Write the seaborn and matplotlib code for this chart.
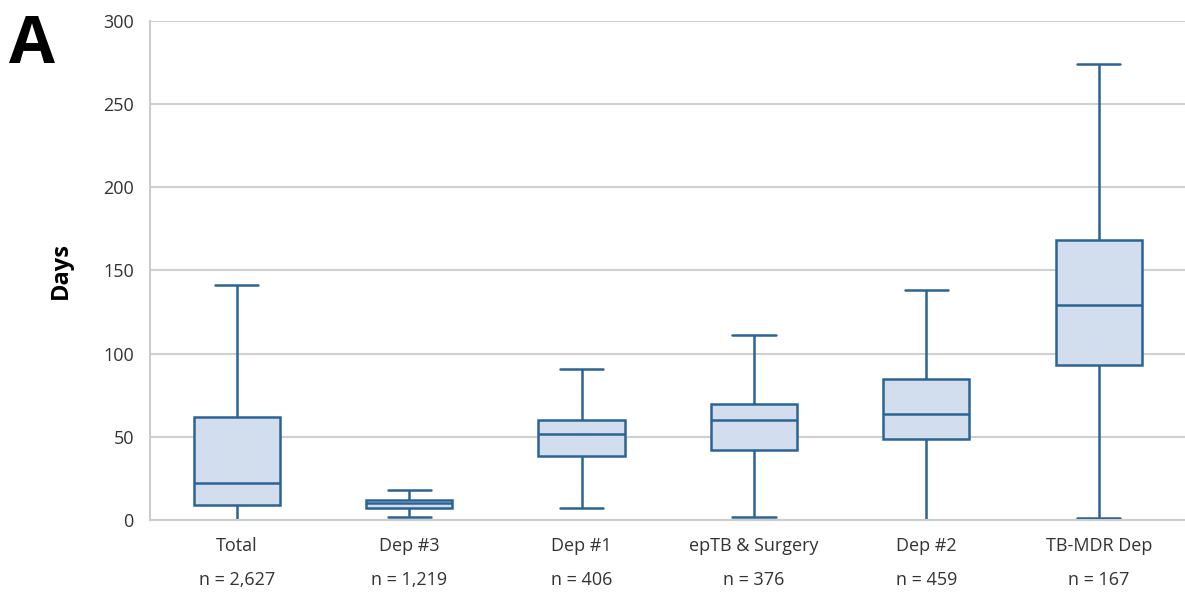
import numpy as np
import pandas as pd
import seaborn as sns
import matplotlib.pyplot as plt

groups = ["Total", "Dep #3", "Dep #1", "epTB & Surgery", "Dep #2", "TB-MDR Dep"]
counts = ["2,627", "1,219", "406", "376", "459", "167"]
mins = [0, 2, 7, 2, 0, 1]
q1s = [9, 7.5, 38.5, 42, 49, 93]
medians = [22, 10, 51.5, 60, 64, 129]
q3s = [62, 12, 60, 70, 85, 168]
maxs = [141, 18, 91, 111, 138, 274]

# five points per group give exactly these quartiles with linear interpolation
rows = []
for g, a, b, c, d, e in zip(groups, mins, q1s, medians, q3s, maxs):
    for v in (a, b, c, d, e):
        rows.append({"group": g, "days": v})
df = pd.DataFrame(rows)

sns.set_style("white")
plt.rcParams["font.family"] = ["Open Sans", "DejaVu Sans"]

edge = "#2b6494"
fig = plt.figure(figsize=(11.85, 6.09), dpi=100)
ax = fig.add_axes([0.127, 0.146, 0.873, 0.82])
sns.boxplot(data=df, x="group", y="days", order=groups, whis=(0, 100),
            width=0.5, color="#d2ddee", saturation=1, linecolor=edge,
            linewidth=1.8, ax=ax, zorder=3)
for line in ax.lines:
    line.set_zorder(4)
    line.set_clip_on(True)

ax.set_ylim(0, 300)
ax.set_yticks(range(0, 301, 50))
ax.yaxis.grid(True, color="#d0d0d0", linewidth=1.5, zorder=0)
ax.set_axisbelow(True)
ax.set_xticks(range(len(groups)))
ax.set_xticklabels([f"{g}\n\nn = {n}" for g, n in zip(groups, counts)],
                   linespacing=0.95)
ax.tick_params(axis="both", labelsize=13, colors="#333333", length=0, pad=12)
ax.set_xlabel("")
ax.set_ylabel("Days", fontsize=17, fontweight="bold", labelpad=22, color="black")
for s in ["top", "right"]:
    ax.spines[s].set_visible(False)
for s in ["left", "bottom"]:
    ax.spines[s].set_color("#cccccc")
    ax.spines[s].set_linewidth(1.5)
    ax.spines[s].set_zorder(5)

fig.text(0.008, 0.925, "A", fontsize=48, fontweight="bold", color="black",
         ha="left", va="center")

fig.savefig("out.png", dpi=100)
